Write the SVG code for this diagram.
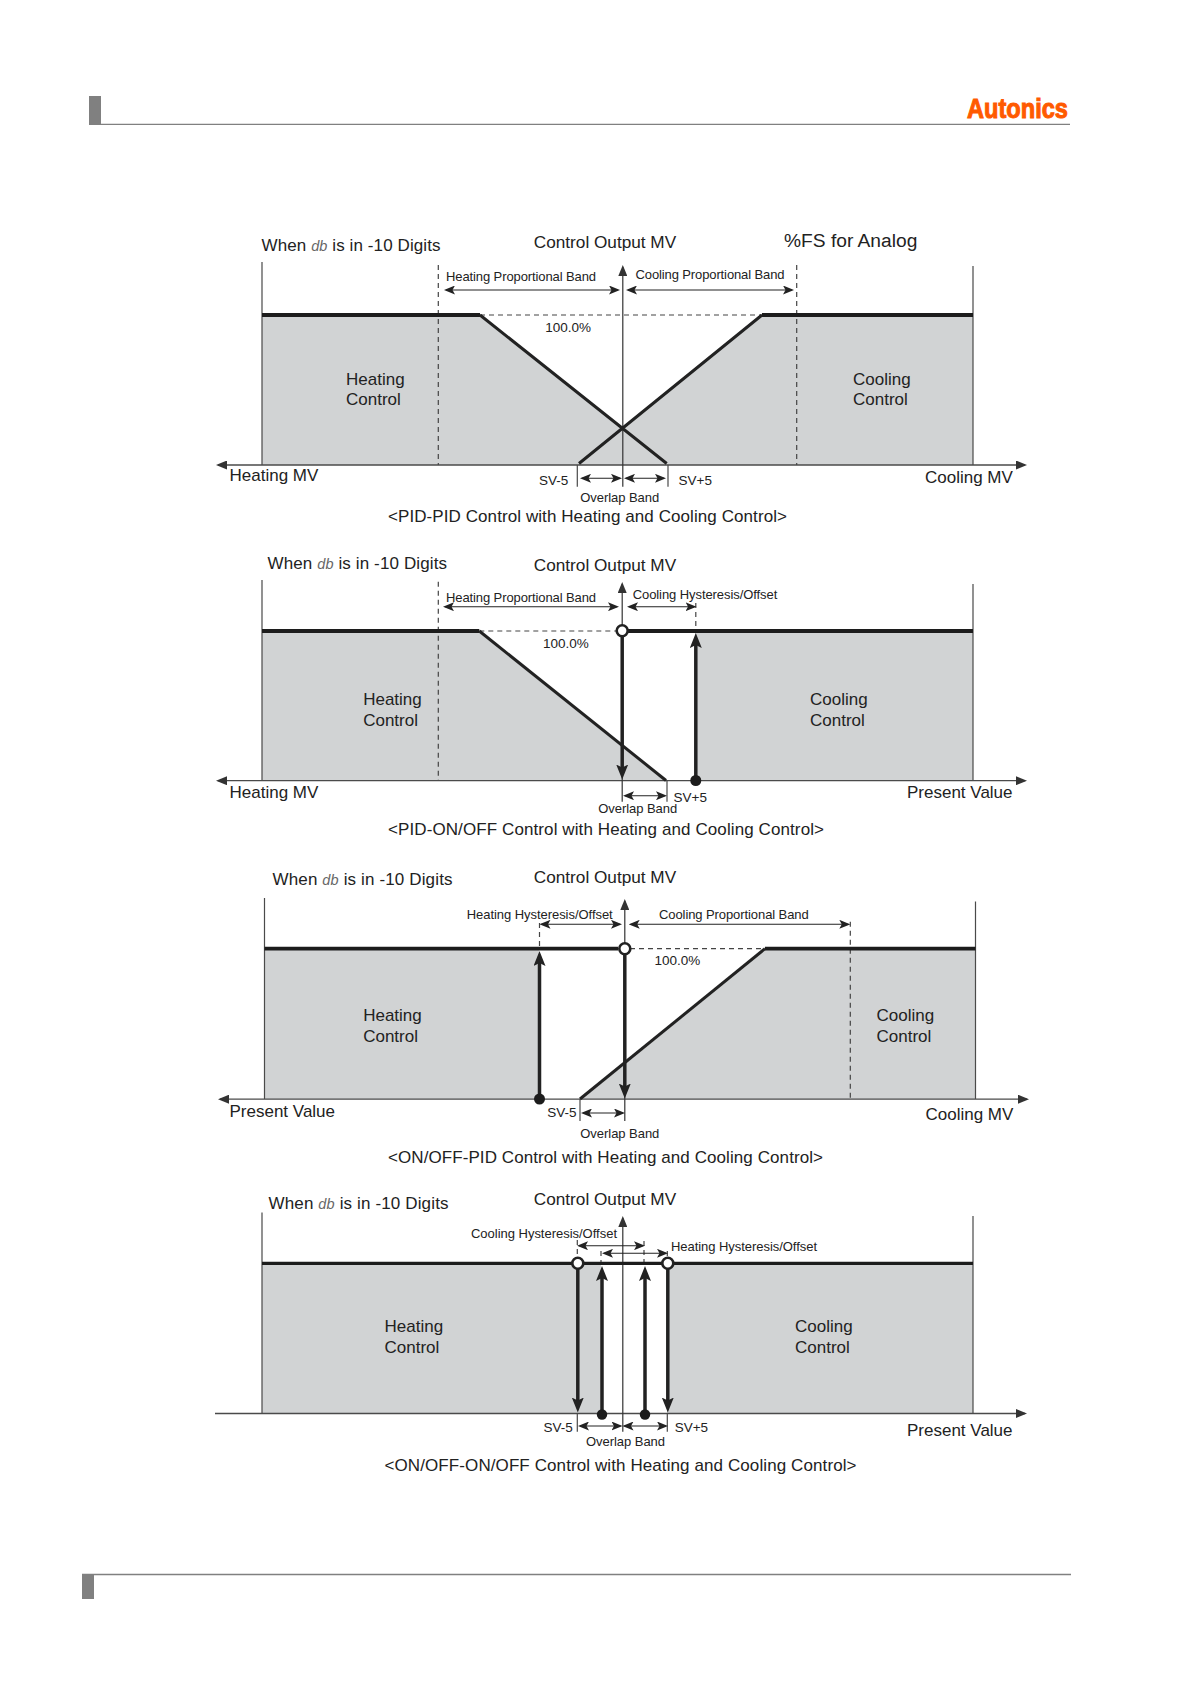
<svg xmlns="http://www.w3.org/2000/svg" width="1191" height="1684" viewBox="0 0 1191 1684">
<style>
text{font-family:"Liberation Sans",Arial,sans-serif;fill:#222}
.h{font-size:17px}.o{font-size:17.2px}.c{font-size:17px}.s{font-size:13px}.p{font-size:13.5px}
.db{font-style:italic;font-size:14.5px;fill:#666}
.gray{fill:#d1d3d4;stroke:none}
.ax{stroke:#4a4a4a;stroke-width:1.2;fill:none}
.base{stroke:#4a4a4a;stroke-width:1.3;fill:none;marker-start:url(#big);marker-end:url(#big)}
.base1{stroke:#4a4a4a;stroke-width:1.3;fill:none;marker-end:url(#big)}
.up{stroke:#333;stroke-width:1.2;fill:none;marker-end:url(#big)}
.dash{stroke:#444;stroke-width:1.2;stroke-dasharray:5 4;fill:none}
.bar{stroke:#1c1c1c;stroke-width:3.8;fill:none}
.slope{stroke:#222;stroke-width:3;fill:none}
.dim{stroke:#222;stroke-width:1.1;fill:none;marker-start:url(#sm);marker-end:url(#sm)}
.thick{stroke:#222;stroke-width:3.5;fill:none;marker-end:url(#hv)}
.open{fill:#fff;stroke:#222;stroke-width:2.6}
.dot{fill:#1c1c1c}
</style>
<defs>
<marker id="sm" markerUnits="userSpaceOnUse" markerWidth="11" markerHeight="9" viewBox="0 0 11 9" refX="9" refY="4.5" orient="auto-start-reverse"><path d="M0 0L11 4.5L0 9L2.5 4.5Z" fill="#222"/></marker>
<marker id="big" markerUnits="userSpaceOnUse" markerWidth="11" markerHeight="9" viewBox="0 0 11 9" refX="9" refY="4.5" orient="auto-start-reverse"><path d="M0 0L11 4.5L0 9Z" fill="#333"/></marker>
<marker id="hv" markerUnits="userSpaceOnUse" markerWidth="15" markerHeight="12" viewBox="0 0 15 12" refX="8" refY="6" orient="auto"><path d="M0 0L15 6L0 12L3 6Z" fill="#222"/></marker>
</defs>
<rect width="1191" height="1684" fill="#fff"/>

<g id="header">
<rect x="89" y="96" width="12" height="28" fill="#808080"/>
<line x1="89" y1="124.3" x2="1070" y2="124.3" stroke="#808080" stroke-width="1.3"/>
<text x="967" y="117.5" font-size="27" font-weight="700" textLength="101" lengthAdjust="spacingAndGlyphs" style="fill:#ff5a00;stroke:#ff5a00;stroke-width:1">Autonics</text>
</g>
<g id="footer">
<rect x="82" y="1574" width="12" height="25" fill="#808080"/>
<line x1="82" y1="1574.5" x2="1071" y2="1574.5" stroke="#808080" stroke-width="1.3"/>
</g>

<g id="chart-pid-pid">
<path class="gray" d="M262 315H480L622.3 427.7L762 315H973V465H262Z"/>
<g id="connectors-1">
<path class="ax" d="M262 262V465M973 266V465"/>
<path class="dash" d="M438.3 265V465M796.7 265V465M480 315H762"/>
<path class="base" d="M218 465H1025"/>
<path class="up" d="M622.8 486.7V267"/>
<path class="ax" d="M577.3 465V486.7M668 465V486.7"/>
<path class="bar" d="M262 315H480M762 315H973"/>
<path class="slope" d="M480 315L666.7 463.5M762 315L579 463.5"/>
<path class="dim" d="M446 290H618"/><path class="dim" d="M628 290H792"/>
<path class="dim" d="M582 478.3H620"/><path class="dim" d="M626 478.3H664"/>
</g>
<text class="h" x="261.5" y="250.7" textLength="179">When <tspan class="db">db</tspan> is in -10 Digits</text>
<text class="o" x="533.8" y="247.7">Control Output MV</text>
<text x="784" y="247" font-size="19.2">%FS for Analog</text>
<text class="s" x="446" y="280.7" textLength="150">Heating Proportional Band</text>
<text class="s" x="635.5" y="279" textLength="149">Cooling Proportional Band</text>
<text class="p" x="545.2" y="332.3">100.0%</text>
<text class="c" x="346" y="385">Heating</text><text class="c" x="346" y="405">Control</text>
<text class="c" x="853" y="385">Cooling</text><text class="c" x="853" y="405">Control</text>
<text class="h" x="229.5" y="480.7">Heating MV</text>
<text class="h" x="925" y="482.7">Cooling MV</text>
<text class="p" x="539" y="485.3">SV-5</text><text class="p" x="678.5" y="485.3">SV+5</text>
<text class="s" x="580.2" y="501.7" textLength="79">Overlap Band</text>
<text class="h" x="388" y="521.7" textLength="399">&lt;PID-PID Control with Heating and Cooling Control&gt;</text>
</g>

<g id="chart-pid-onoff">
<path class="gray" d="M262 631H479.3L666 780.7H262Z"/>
<rect class="gray" x="695.3" y="631" width="277.7" height="149.7"/>
<g id="connectors-2">
<path class="ax" d="M262 580V780.7M973 584V780.7"/>
<path class="dash" d="M438.3 581.7V780.7M479.3 631H616M695.8 603V631"/>
<path class="base" d="M218 780.7H1025"/>
<path class="up" d="M622.2 801.7V584"/>
<path class="ax" d="M667 780.7V801.7"/>
<path class="bar" d="M262 631H479.3M627 631H973"/>
<path class="slope" d="M479.3 631L666 780.5"/>
<path class="thick" d="M622.2 636V772.5"/>
<path class="thick" d="M695.8 780V640"/>
<path class="dim" d="M445 606.7H617"/><path class="dim" d="M629 606.7H694.5"/>
<path class="dim" d="M625 795.7H665"/>
</g>
<circle class="open" cx="622.2" cy="630.7" r="5.5"/>
<circle class="dot" cx="695.8" cy="780.5" r="5.5"/>
<text class="h" x="267.5" y="569.3" textLength="179.5">When <tspan class="db">db</tspan> is in -10 Digits</text>
<text class="o" x="533.8" y="570.7">Control Output MV</text>
<text class="s" x="446" y="601.7" textLength="150">Heating Proportional Band</text>
<text class="s" x="632.7" y="599.3" textLength="144.6">Cooling Hysteresis/Offset</text>
<text class="p" x="543" y="648.3">100.0%</text>
<text class="c" x="363.2" y="705">Heating</text><text class="c" x="363.2" y="725.5">Control</text>
<text class="c" x="810" y="705">Cooling</text><text class="c" x="810" y="725.5">Control</text>
<text class="h" x="229.5" y="798">Heating MV</text>
<text class="h" x="907" y="798">Present Value</text>
<text class="p" x="673.5" y="802.3">SV+5</text>
<text class="s" x="598.2" y="813.3" textLength="79">Overlap Band</text>
<text class="h" x="388" y="835" textLength="436">&lt;PID-ON/OFF Control with Heating and Cooling Control&gt;</text>
</g>

<g id="chart-onoff-pid">
<rect class="gray" x="264.5" y="949" width="274.5" height="150"/>
<path class="gray" d="M580 1099L765 949H975.5V1099Z"/>
<g id="connectors-3">
<path class="ax" d="M264.5 898V1099M975.5 901.5V1099"/>
<path class="dash" d="M539.5 923V949M630 948.7H765M850.3 921.7V1099"/>
<path class="base" d="M220 1099.2H1027"/>
<path class="up" d="M624.8 1121V901"/>
<path class="ax" d="M580 1099V1121"/>
<path class="bar" d="M264.5 948.7H618M765 948.7H975.5"/>
<path class="slope" d="M765 948.7L580 1099"/>
<path class="thick" d="M624.8 954V1091.5"/>
<path class="thick" d="M539.5 1098V958"/>
<path class="dim" d="M541.5 924.3H620"/><path class="dim" d="M630.7 924.3H848.3"/>
<path class="dim" d="M583 1113H623"/>
</g>
<circle class="open" cx="624.8" cy="948.7" r="5.5"/>
<circle class="dot" cx="539.5" cy="1099" r="5.5"/>
<text class="h" x="272.5" y="885" textLength="180">When <tspan class="db">db</tspan> is in -10 Digits</text>
<text class="o" x="533.8" y="882.7">Control Output MV</text>
<text class="s" x="466.7" y="919.3" textLength="146">Heating Hysteresis/Offset</text>
<text class="s" x="659" y="919.3" textLength="149.7">Cooling Proportional Band</text>
<text class="p" x="654.5" y="965">100.0%</text>
<text class="c" x="363.2" y="1021">Heating</text><text class="c" x="363.2" y="1041.5">Control</text>
<text class="c" x="876.5" y="1021">Cooling</text><text class="c" x="876.5" y="1041.5">Control</text>
<text class="h" x="229.5" y="1117">Present Value</text>
<text class="h" x="925.5" y="1120">Cooling MV</text>
<text class="p" x="547.2" y="1117.3">SV-5</text>
<text class="s" x="580.3" y="1138.3" textLength="79">Overlap Band</text>
<text class="h" x="388" y="1162.7" textLength="435">&lt;ON/OFF-PID Control with Heating and Cooling Control&gt;</text>
</g>

<g id="chart-onoff-onoff">
<rect class="gray" x="262" y="1263" width="339" height="150.5"/>
<rect class="gray" x="667" y="1263" width="306" height="150.5"/>
<g id="connectors-4">
<path class="ax" d="M262 1212.6V1413.5M973 1216V1413.5"/>
<path class="dash" d="M577.3 1240V1258M601 1251V1263M644 1241V1263M667.3 1251V1258"/>
<path class="base1" d="M215 1413.5H1025"/>
<path class="up" d="M622.8 1431.7V1218"/>
<path class="ax" d="M577.3 1413.5V1431.7M667.3 1413.5V1431.7"/>
<path class="bar" d="M262 1263.3H973" style="stroke-width:3.2"/>
<path class="thick" d="M577.8 1268V1405.5"/>
<path class="thick" d="M667.8 1268V1405.5"/>
<path class="thick" d="M602 1414V1273"/>
<path class="thick" d="M645 1414V1273"/>
<path class="dim" d="M579 1245.7H643"/><path class="dim" d="M604 1253.3H666"/>
<path class="dim" d="M580 1426H620.5"/><path class="dim" d="M624.5 1426H666"/>
</g>
<circle class="open" cx="577.8" cy="1263.3" r="5.5"/>
<circle class="open" cx="667.8" cy="1263.3" r="5.5"/>
<circle class="dot" cx="602" cy="1414.5" r="5.2"/>
<circle class="dot" cx="645" cy="1414.5" r="5.2"/>
<text class="h" x="268.5" y="1209" textLength="180">When <tspan class="db">db</tspan> is in -10 Digits</text>
<text class="o" x="533.8" y="1205">Control Output MV</text>
<text class="s" x="471" y="1238.3" textLength="146">Cooling Hysteresis/Offset</text>
<text class="s" x="671" y="1251" textLength="146">Heating Hysteresis/Offset</text>
<text class="c" x="384.5" y="1332">Heating</text><text class="c" x="384.5" y="1352.8">Control</text>
<text class="c" x="795" y="1332">Cooling</text><text class="c" x="795" y="1352.8">Control</text>
<text class="h" x="907" y="1436">Present Value</text>
<text class="p" x="543.5" y="1431.7">SV-5</text><text class="p" x="674.7" y="1431.7">SV+5</text>
<text class="s" x="586" y="1446" textLength="79">Overlap Band</text>
<text class="h" x="384.5" y="1470.7" textLength="472">&lt;ON/OFF-ON/OFF Control with Heating and Cooling Control&gt;</text>
</g>
</svg>
